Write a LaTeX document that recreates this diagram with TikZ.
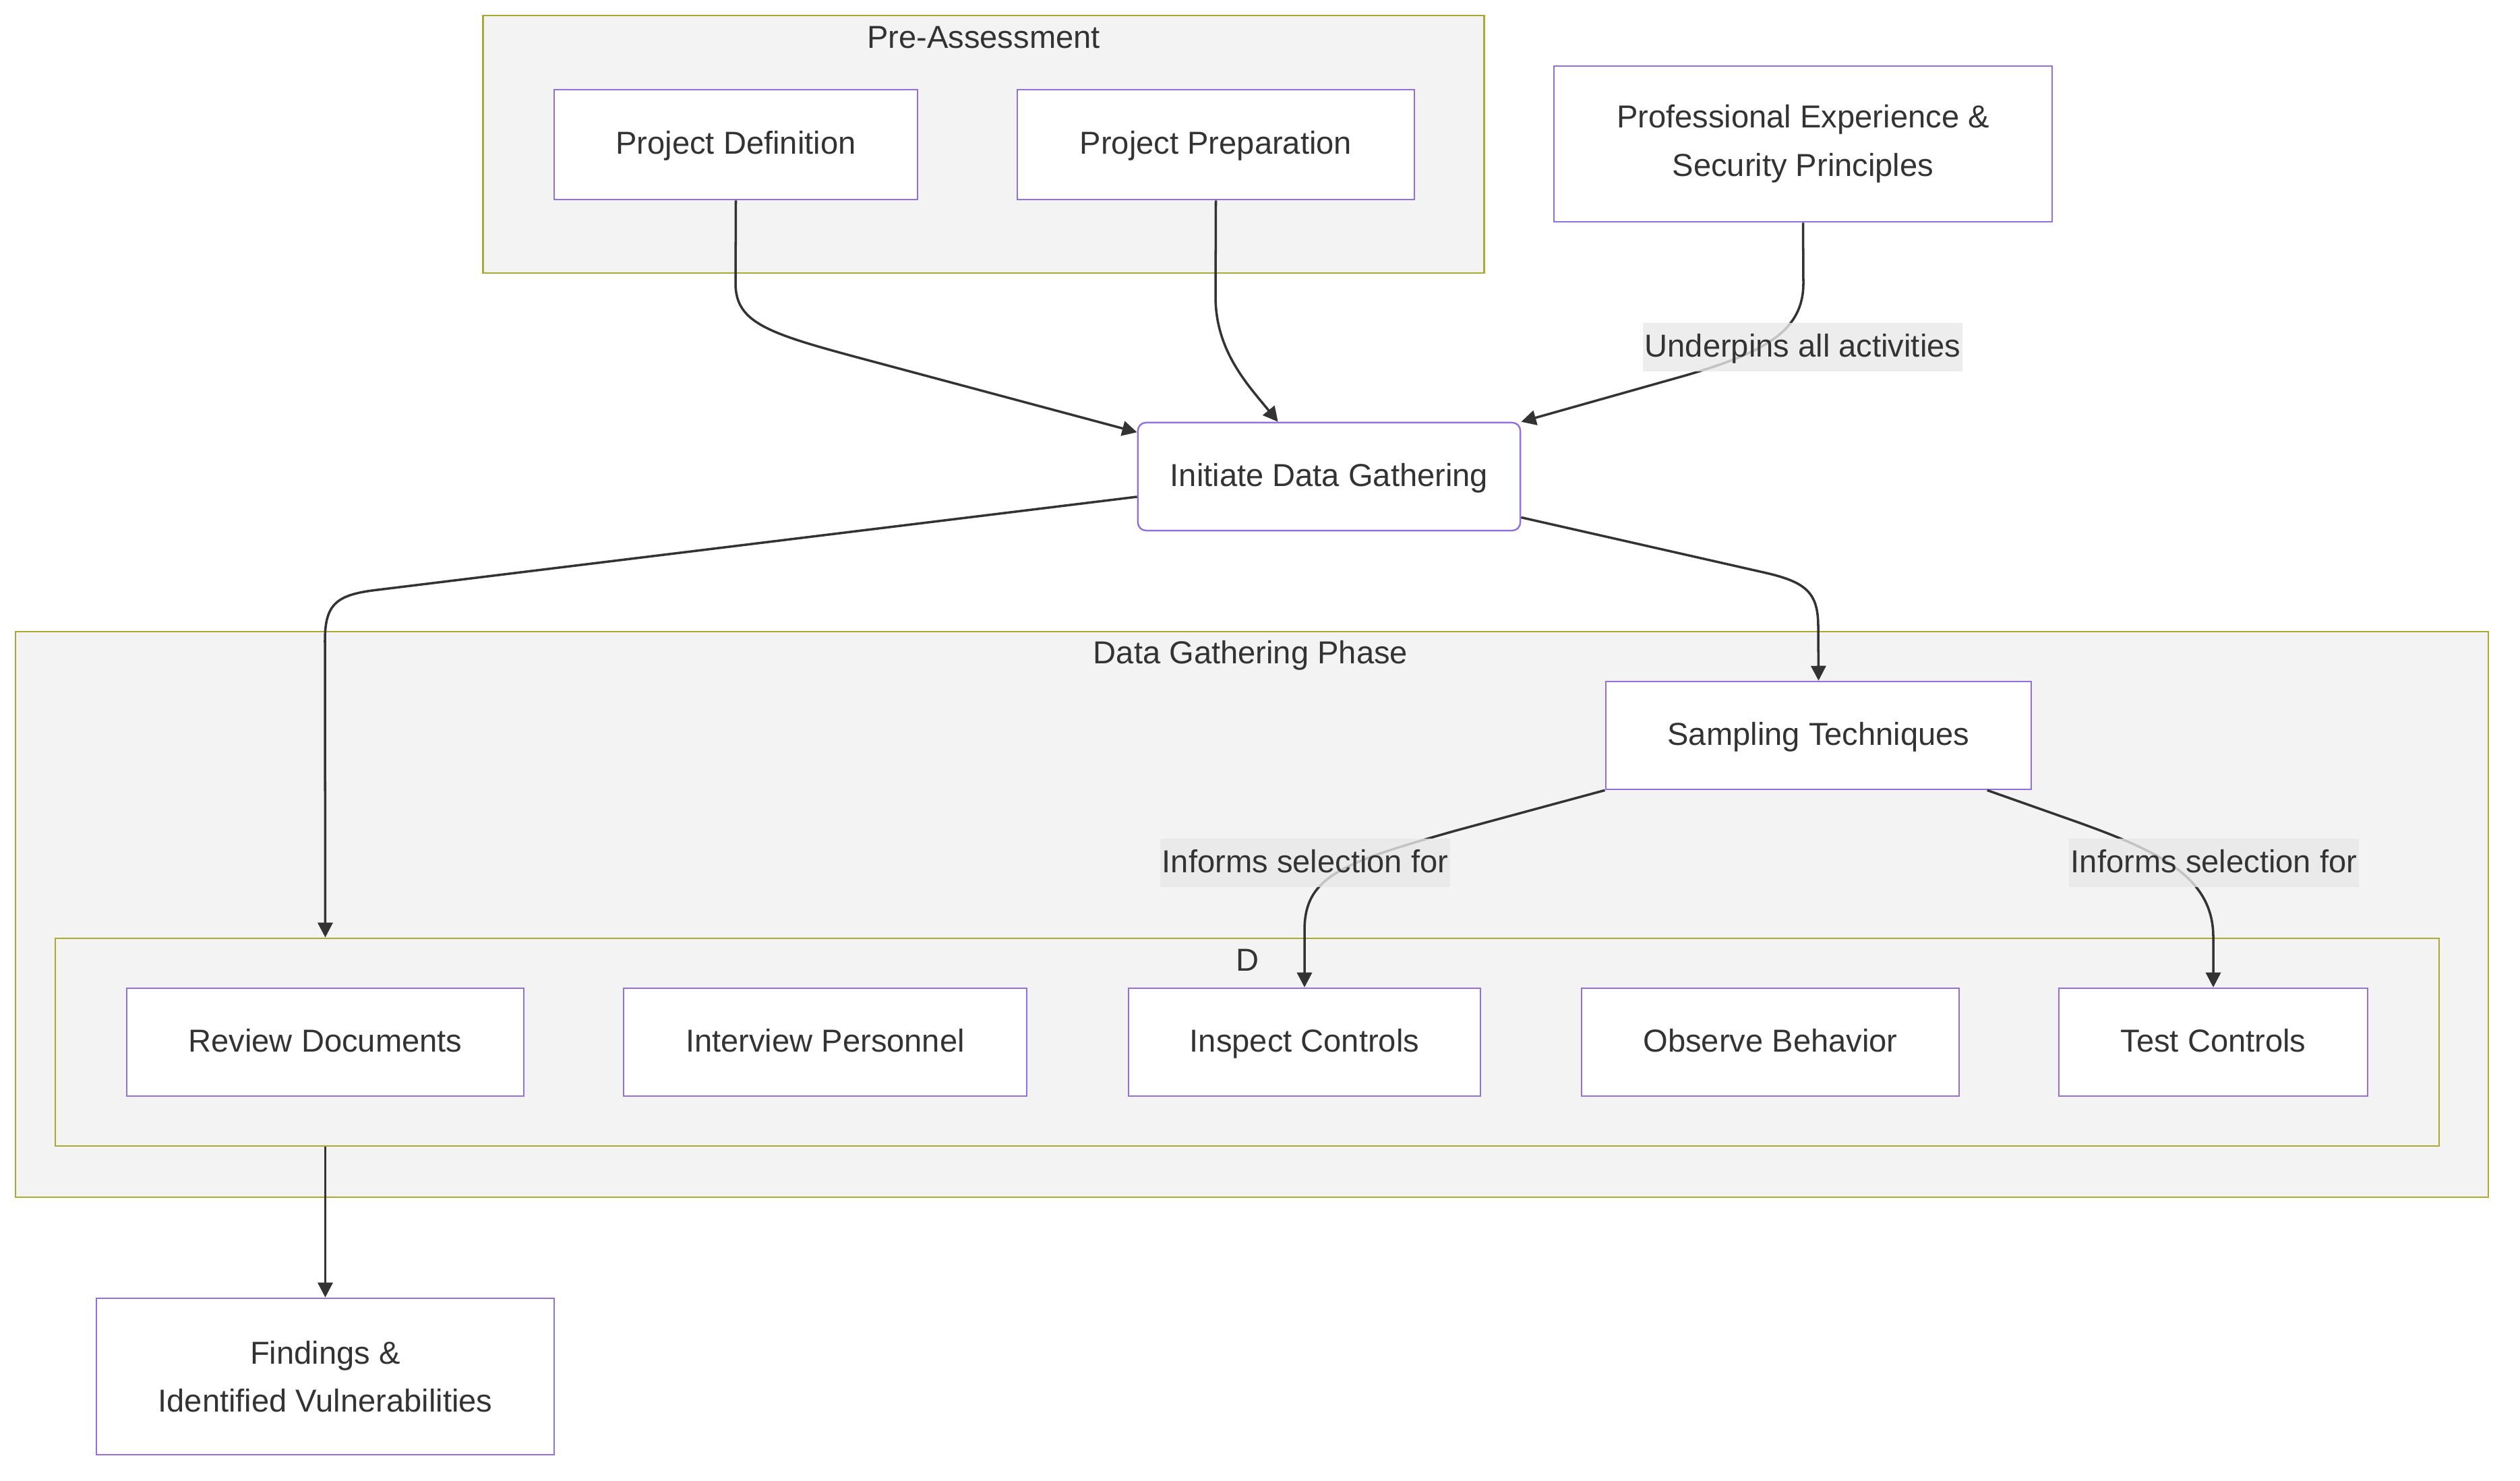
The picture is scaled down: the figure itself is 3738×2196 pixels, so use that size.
\documentclass[tikz,border=0pt]{standalone}
\usepackage{fontspec}
\setmainfont{Liberation Sans}
\usetikzlibrary{arrows.meta}
\definecolor{nodeline}{HTML}{9370DB}
\definecolor{clusterline}{HTML}{AAAA33}
\definecolor{clusterfill}{HTML}{F3F3F3}
\definecolor{labelfill}{HTML}{E8E8E8}
\definecolor{inkgray}{HTML}{333333}

\begin{document}
\begin{tikzpicture}[x=0.01cm, y=-0.01cm, font=\fontsize{13.4}{20.4}\selectfont, text=inkgray,
      cluster/.style={draw=clusterline, fill=clusterfill, line width=0.7pt, inner sep=0pt},
      cltitle/.style={inner sep=0pt, text height=0.9em, text depth=0.1em},
      box/.style={draw=nodeline, fill=white, line width=0.7pt, inner sep=0pt, align=center,
        minimum height=1.6cm, text height=0.9em, text depth=0.1em},
      tallbox/.style={draw=nodeline, fill=white, line width=0.7pt, inner sep=0pt, align=center},
      elabel/.style={fill=labelfill, fill opacity=0.8, text opacity=1, inner xsep=0.03cm,
        inner ysep=0pt, minimum height=0.71cm, text height=0.9em, text depth=0.1em},
      edge/.style={draw=inkgray, line width=1pt, -{Triangle[length=0.22cm, width=0.22cm]}}]
    \useasboundingbox (0,0) rectangle (3738,2196);
    % subgraphs
    \node[cluster, minimum width=14.84cm, minimum height=3.82cm] (preCl) at (1459,214) {};
    \node[cltitle] (preTitle) at (1459,57) {Pre-Assessment};
    \node[cluster, minimum width=36.66cm, minimum height=8.39cm] (dataCl) at (1857,1356.5) {};
    \node[cltitle] (dataTitle) at (1855,970) {Data Gathering Phase};
    \node[cluster, minimum width=35.34cm, minimum height=3.08cm] (dCl) at (1850,1546) {};
    \node[cltitle] (dTitle) at (1850,1426) {D};
    % nodes
    \node[box, minimum width=5.39cm, minimum height=1.63cm] (projDef) at (1091.5,214.5) {Project Definition};
    \node[box, minimum width=5.89cm, minimum height=1.63cm] (projPrep) at (1803.5,214.5) {Project Preparation};
    \node[tallbox, minimum width=7.39cm, minimum height=2.31cm] (profExp) at (2674.5,213.5)
      {Professional Experience \&\\Security Principles};
    \node[box, rounded corners=0.12cm, minimum width=5.67cm] (initData) at (1971.5,707) {Initiate Data Gathering};
    \node[box, minimum width=6.31cm] (sampling) at (2697.5,1091) {Sampling Techniques};
    \node[box, minimum width=5.89cm] (review) at (482.5,1546) {Review Documents};
    \node[box, minimum width=5.98cm] (interview) at (1224,1546) {Interview Personnel};
    \node[box, minimum width=5.22cm] (inspect) at (1935,1546) {Inspect Controls};
    \node[box, minimum width=5.60cm] (observe) at (2626,1546) {Observe Behavior};
    \node[box, minimum width=4.58cm] (test) at (3283,1546) {Test Controls};
    \node[tallbox, minimum width=6.79cm, minimum height=2.32cm] (findings) at (482.5,2042)
      {Findings \&\\Identified Vulnerabilities};
    % connectors
    \draw[edge] (projDef.south) -- (1091,420) .. controls (1091,480) and (1140,495) .. (1290,535) -- (initData.167);
    \draw[edge] (projPrep.south) -- (1803,440) .. controls (1803,520) and (1850,570) .. (initData.133);
    \draw[edge] (profExp.south) -- (2675,420) .. controls (2675,490) and (2620,522) .. (2500,557) -- (initData.north east);
    \draw[edge] (initData.186) -- (560,875) .. controls (500,882) and (482,895) .. (482,950) -- (dCl.north -| review);
    \draw[edge] (initData.-12) -- (2620,850) .. controls (2680,864) and (2697,880) .. (2697,930) -- (sampling.north);
    \draw[edge] (sampling.south west) -- (2160,1232) .. controls (1990,1280) and (1935,1300) .. (1935,1380) -- (inspect.north);
    \draw[edge] (sampling.-18) -- (3080,1219) .. controls (3200,1262) and (3283,1300) .. (3283,1390) -- (test.north);
    \draw[edge] (dCl.south -| findings) -- (findings.north);
    % edge labels
    \node[elabel] (lblUnder) at (2674,515) {Underpins all activities};
    \node[elabel] (lblInspect) at (1936,1280) {Informs selection for};
    \node[elabel] (lblTest) at (3284,1280) {Informs selection for};
  \end{tikzpicture}
\end{document}
